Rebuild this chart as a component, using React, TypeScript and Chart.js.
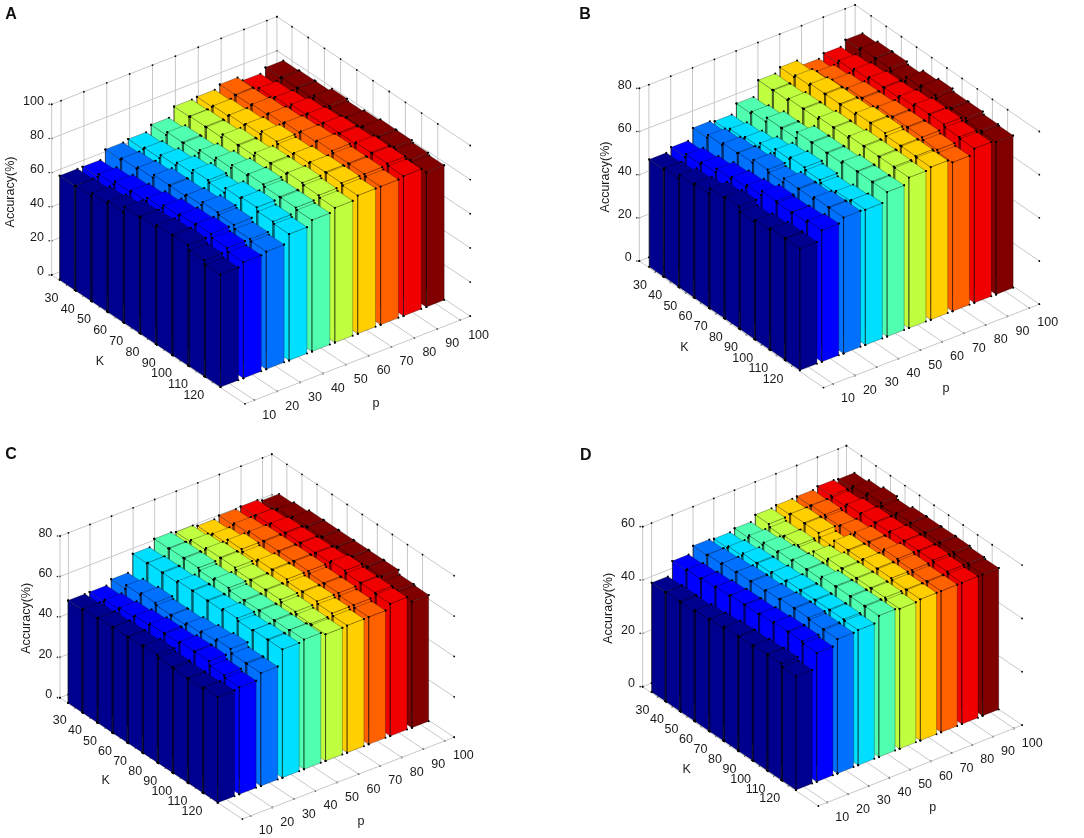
import React, { useRef, useEffect } from 'react';
import { Chart, registerables } from 'chart.js';

Chart.register(...registerables);

const kLabels = ['30', '40', '50', '60', '70', '80', '90', '100', '110', '120'];
const pLabels = ['10', '20', '30', '40', '50', '60', '70', '80', '90', '100'];

// one row per p, one value per K
const accuracyA = [
  [61, 61.5, 63.4, 64.9, 68, 68.8, 70, 70.7, 68, 66],
  [61, 63, 65, 66, 68, 70, 71, 72, 70, 68],
  [66, 67, 68, 70, 70, 71, 73, 72, 70, 69],
  [66.8, 68, 70, 72, 74, 73, 76, 77, 75, 74],
  [70, 72, 72, 74, 76, 78, 79, 78, 78, 77],
  [75.5, 76, 76, 78, 78, 80, 80, 81, 80, 79],
  [76, 77, 78, 79, 81, 80, 81, 82, 82, 81],
  [78, 78, 79, 80, 81, 82, 83, 82, 82, 81],
  [75, 77, 78, 80, 81, 82, 82, 83, 83, 82],
  [77.5, 78, 78, 80, 79, 80, 81, 81, 80, 79],
];
const accuracyB = [
  [49.7, 50.4, 52.2, 53.1, 55.6, 56.6, 54.5, 55.5, 56.4, 56.4],
  [51.4, 53, 54, 56, 57, 58, 60, 59.5, 60, 61],
  [56.5, 58, 59, 59.5, 61, 60, 62, 62, 63, 63],
  [55.7, 57, 58, 60, 62, 63, 62, 61, 62, 62.7],
  [60, 61, 63, 63, 66, 66, 66, 67, 67, 67],
  [66.9, 67, 68, 68, 69, 69, 70, 70, 70, 69.8],
  [69, 70, 71, 71, 71, 72, 72, 71, 71, 70.7],
  [66, 68, 69, 70, 70, 71, 71, 71, 70, 69],
  [67.6, 69, 70, 71, 71, 72, 73, 73, 72, 71.5],
  [70, 71, 71, 70, 72, 73, 72, 72, 71, 70.6],
];
const accuracyC = [
  [50.8, 51.6, 52.1, 52.5, 52.5, 53.4, 52.2, 51.8, 51.8, 52.3],
  [50.8, 52, 53, 54, 55, 55, 56, 56, 54, 53],
  [53, 55, 56, 55, 55, 56, 57, 58, 56, 55.9],
  [61.5, 62, 62, 63, 63, 63, 64, 63, 63.5, 63.5],
  [64.8, 65, 65, 64, 65, 64, 64, 64, 64, 64.3],
  [64, 65, 66, 66, 65, 65, 65, 64, 63, 62.7],
  [63, 64, 66, 65, 66, 66, 65, 65, 64, 63],
  [64, 65, 66, 66, 66, 66, 65, 65, 64, 63],
  [64.3, 65, 66, 66, 66, 66, 67, 66, 66, 65.5],
  [63.2, 64, 65, 65, 65, 65, 65, 65, 63, 62.5],
];
const accuracyD = [
  [40.9, 41.2, 41, 41.7, 42.2, 42.9, 42.9, 43.4, 43.7, 42.6],
  [46, 46.5, 47, 47.5, 48, 48, 48.5, 49, 49, 48.3],
  [48.6, 49, 49.5, 50, 50, 50.5, 51, 51, 50.5, 50.4],
  [48.2, 49, 50, 50, 50.5, 51, 51, 51, 51, 50.7],
  [49, 50, 51, 51.5, 52, 52, 53, 53, 53, 53],
  [51, 50, 50.5, 50, 52, 53, 53, 53, 53, 52.5],
  [51.5, 52, 52, 50.5, 53, 53, 53.5, 53.5, 53, 53],
  [51.7, 52, 51.5, 52, 53, 53, 54, 53.5, 53, 53],
  [52.4, 52, 53, 53.5, 53.5, 54, 54, 54, 53.5, 53],
  [52, 53, 54, 53, 54, 54, 54, 54, 53.5, 53],
];

const rowColors = ['#00008f', '#0000ff', '#0070ff', '#00dfff', '#50ffaf', '#bfff40', '#ffcf00', '#ff6000', '#f00000', '#800000'];

const GRID = '#c8c8c8';
const EDGE = 'rgba(0,0,0,0.4)';
const TEXT = '#1a1a1a';
const BAR_K = 0.93;
const BAR_P = 0.78;

interface Panel3D {
  letter: string;
  values: number[][];
  zTicks: number[];
  box: { left: number; top: number; width: number; height: number };
  anchor: [number, number]; // where k=kLo, p=pLo, z=0 lands
  kStep: [number, number];
  pStep: [number, number];
  zScale: number;
  kLo: number;
  kHi: number;
  pLo: number;
  pHi: number;
  letterAt: [number, number];
  kTitleAt: [number, number];
  pTitleAt: [number, number];
  zTitleAt: [number, number];
}

const panels: Panel3D[] = [
  {
    letter: 'A', values: accuracyA, zTicks: [0, 20, 40, 60, 80, 100],
    box: { left: 0, top: 0, width: 540, height: 425 },
    anchor: [51.67, 275], kStep: [16.2, 10.8], pStep: [22.87, -8.9], zScale: 1.707,
    kLo: -0.93, kHi: 11.0, pLo: -0.41, pHi: 9.44,
    letterAt: [11, 15], kTitleAt: [100, 362], pTitleAt: [376, 404], zTitleAt: [10.7, 192],
  },
  {
    letter: 'B', values: accuracyB, zTicks: [0, 20, 40, 60, 80],
    box: { left: 540, top: 0, width: 544, height: 425 },
    anchor: [99.33, 261], kStep: [15.17, 10.43], pStep: [21.8, -8.43], zScale: 2.158,
    kLo: -1.05, kHi: 11.09, pLo: -0.44, pHi: 9.46,
    letterAt: [45, 14.5], kTitleAt: [144.3, 348], pTitleAt: [406, 389], zTitleAt: [66, 177],
  },
  {
    letter: 'C', values: accuracyC, zTicks: [0, 20, 40, 60, 80],
    box: { left: 0, top: 425, width: 540, height: 413 },
    anchor: [60, 272.67], kStep: [15.07, 10.03], pStep: [21.57, -8.33], zScale: 2.02,
    kLo: -1.0, kHi: 11.1, pLo: -0.39, pHi: 9.43,
    letterAt: [11, 30], kTitleAt: [105.7, 355.7], pTitleAt: [361, 396.7], zTitleAt: [26.7, 193.3],
  },
  {
    letter: 'D', values: accuracyD, zTicks: [0, 20, 40, 60],
    box: { left: 540, top: 425, width: 544, height: 413 },
    anchor: [102.67, 261.67], kStep: [14.53, 9.87], pStep: [20.73, -8.23], zScale: 2.667,
    kLo: -1.03, kHi: 11.06, pLo: -0.43, pHi: 9.4,
    letterAt: [45.7, 30.7], kTitleAt: [146.7, 344.3], pTitleAt: [392.7, 382.3], zTitleAt: [68.3, 183.3],
  },
];

function project(cfg: Panel3D, k: number, p: number, z: number) {
  const dk = k - cfg.kLo;
  const dp = p - cfg.pLo;
  return {
    x: cfg.anchor[0] + dk * cfg.kStep[0] + dp * cfg.pStep[0],
    y: cfg.anchor[1] + dk * cfg.kStep[1] + dp * cfg.pStep[1] - z * cfg.zScale,
  };
}

function gridLine(points: { x: number; y: number }[]) {
  return {
    data: points,
    showLine: true,
    borderColor: GRID,
    borderWidth: 1,
    pointRadius: 0.9,
    pointBackgroundColor: '#000',
    pointBorderWidth: 0,
    tension: 0,
    fill: false,
  };
}

function buildGrid(cfg: Panel3D) {
  const zMax = cfg.zTicks[cfg.zTicks.length - 1];
  const out: any[] = [];
  cfg.zTicks.forEach((z) => {
    out.push(gridLine([project(cfg, cfg.kLo, cfg.pLo, z), project(cfg, cfg.kLo, cfg.pHi, z), project(cfg, cfg.kHi, cfg.pHi, z)]));
  });
  pLabels.forEach((_, j) => {
    out.push(gridLine([project(cfg, cfg.kLo, j, 0), project(cfg, cfg.kLo, j, zMax)]));
    out.push(gridLine([project(cfg, cfg.kLo, j, 0), project(cfg, cfg.kHi, j, 0)]));
  });
  kLabels.forEach((_, i) => {
    out.push(gridLine([project(cfg, i, cfg.pHi, 0), project(cfg, i, cfg.pHi, zMax)]));
    out.push(gridLine([project(cfg, i, cfg.pLo, 0), project(cfg, i, cfg.pHi, 0)]));
  });
  out.push(gridLine([project(cfg, cfg.kLo, cfg.pLo, 0), project(cfg, cfg.kLo, cfg.pLo, zMax)]));
  out.push(gridLine([project(cfg, cfg.kLo, cfg.pHi, 0), project(cfg, cfg.kLo, cfg.pHi, zMax)]));
  out.push(gridLine([project(cfg, cfg.kLo, cfg.pLo, 0), project(cfg, cfg.kHi, cfg.pLo, 0), project(cfg, cfg.kHi, cfg.pHi, 0)]));
  return out;
}

function face(points: { x: number; y: number }[], color: string) {
  return {
    data: [...points, points[0]],
    showLine: true,
    backgroundColor: color,
    borderColor: EDGE,
    borderWidth: 0.7,
    fill: 'shape',
    tension: 0,
    pointRadius: 1,
    pointBackgroundColor: '#000',
    pointBorderWidth: 0,
  };
}

function buildBars(cfg: Panel3D) {
  const out: any[] = [];
  for (let j = pLabels.length - 1; j >= 0; j--) {
    for (let i = 0; i < kLabels.length; i++) {
      const z = cfg.values[j][i];
      const color = rowColors[j];
      const k0 = i - BAR_K / 2;
      const k1 = i + BAR_K / 2;
      const p0 = j - BAR_P / 2;
      const p1 = j + BAR_P / 2;
      // face towards low p, face towards high k, then the lid
      out.push(face([project(cfg, k0, p0, 0), project(cfg, k1, p0, 0), project(cfg, k1, p0, z), project(cfg, k0, p0, z)], color));
      out.push(face([project(cfg, k1, p0, 0), project(cfg, k1, p1, 0), project(cfg, k1, p1, z), project(cfg, k1, p0, z)], color));
      out.push(face([project(cfg, k0, p0, z), project(cfg, k1, p0, z), project(cfg, k1, p1, z), project(cfg, k0, p1, z)], color));
    }
  }
  return out;
}

function ThreeDBars({ cfg }: { cfg: Panel3D }) {
  const canvasRef = useRef<HTMLCanvasElement>(null);

  useEffect(() => {
    if (!canvasRef.current) return;
    const labelPlugin = {
      id: 'axisText',
      afterDraw: (chart: any) => {
        const ctx = chart.ctx;
        const sx = chart.scales.x;
        const sy = chart.scales.y;
        ctx.save();
        ctx.fillStyle = TEXT;
        ctx.font = '12.5px "Liberation Sans"';
        ctx.textBaseline = 'middle';

        ctx.textAlign = 'right';
        cfg.zTicks.forEach((z) => {
          const pt = project(cfg, cfg.kLo, cfg.pLo, z);
          const px = sx.getPixelForValue(pt.x);
          const py = sy.getPixelForValue(pt.y);
          ctx.fillText(String(z), px - 7.7, py - 3);
          ctx.beginPath();
          ctx.arc(px - 2.5, py, 0.8, 0, Math.PI * 2);
          ctx.fill();
        });
        kLabels.forEach((label, i) => {
          const pt = project(cfg, i, cfg.pLo, 0);
          ctx.fillText(label, sx.getPixelForValue(pt.x) - 8.3, sy.getPixelForValue(pt.y) + 13.3);
        });
        ctx.textAlign = 'left';
        pLabels.forEach((label, j) => {
          const pt = project(cfg, cfg.kHi, j, 0);
          ctx.fillText(label, sx.getPixelForValue(pt.x) + 8, sy.getPixelForValue(pt.y) + 15);
        });

        ctx.textAlign = 'center';
        ctx.fillText('K', cfg.kTitleAt[0], cfg.kTitleAt[1]);
        ctx.fillText('p', cfg.pTitleAt[0], cfg.pTitleAt[1]);
        ctx.save();
        ctx.translate(cfg.zTitleAt[0], cfg.zTitleAt[1]);
        ctx.rotate(-Math.PI / 2);
        ctx.fillText('Accuracy(%)', 0, 0);
        ctx.restore();

        ctx.font = 'bold 16px "Liberation Sans"';
        ctx.fillStyle = '#111';
        ctx.fillText(cfg.letter, cfg.letterAt[0], cfg.letterAt[1]);
        ctx.restore();
      },
    };

    // Chart.js paints the first dataset last, so front-most goes first
    const datasets = [...buildGrid(cfg), ...buildBars(cfg)].reverse();

    const chart = new Chart(canvasRef.current, {
      type: 'scatter',
      data: { datasets },
      options: {
        responsive: false,
        animation: false,
        devicePixelRatio: 1,
        layout: { padding: 0, autoPadding: false },
        plugins: { legend: { display: false }, tooltip: { enabled: false }, filler: { propagate: false } },
        scales: {
          x: { type: 'linear', min: 0, max: cfg.box.width, display: false },
          y: { type: 'linear', min: 0, max: cfg.box.height, reverse: true, display: false },
        },
      } as any,
      plugins: [labelPlugin],
    });

    return () => chart.destroy();
  }, [cfg]);

  return (
    <canvas
      ref={canvasRef}
      width={cfg.box.width}
      height={cfg.box.height}
      style={{ position: 'absolute', left: cfg.box.left, top: cfg.box.top, width: cfg.box.width, height: cfg.box.height }}
    />
  );
}

export default function App() {
  return (
    <div style={{ position: 'absolute', left: 0, top: 0, width: 1084, height: 838, background: '#fff', overflow: 'hidden' }}>
      {panels.map((cfg) => (
        <ThreeDBars key={cfg.letter} cfg={cfg} />
      ))}
    </div>
  );
}
